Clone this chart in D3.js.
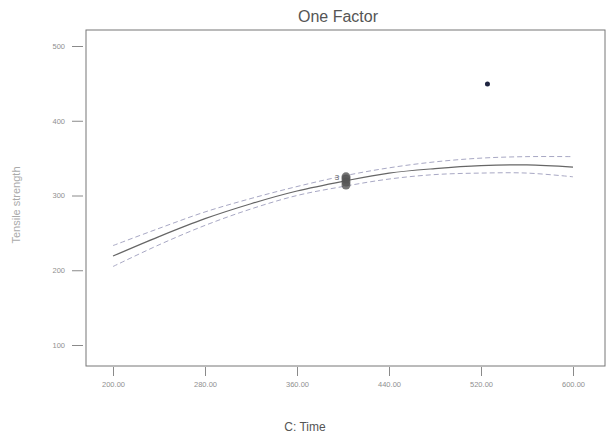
<!doctype html>
<html>
<head>
    <style>
        body {
            margin: 0;
            background: #fff;
            font-family: 'Liberation Sans', Arial, sans-serif;
        }

        .axis {
            color: #8a8a8a;
        }

        .tick text {
            font-size: 7.5px;
            fill: #8f8f8f;
        }

        .domain {
            display: none;
        }

        text.title {
            font-size: 16px;
            fill: #555;
        }

        text.label {
            font-size: 12px;
            fill: #555;
        }

        text.ylabel {
            font-size: 11px;
            fill: #aaa;
        }
    </style>
    <script src="https://d3js.org/d3.v7.min.js"></script>
</head>
<body>
<svg width="610" height="434"></svg>
<script>
    // fitted line
    const times = [200, 240, 280, 320, 360, 400, 440, 480, 520, 560, 600]
    const fit = [219, 245, 269, 289, 306, 319, 330, 336, 340, 341, 338]
    const upper = [233, 256, 278, 296, 312, 326, 337, 345, 350, 352, 352]
    const lower = [205, 234, 260, 282, 300, 312, 322, 328, 330, 330, 325]

    // design points
    const pointTimes = [400, 400, 400, 400, 523]
    const pointValues = [325, 322, 318, 314, 449]

    const xTicks = [200, 280, 360, 440, 520, 600]
    const yTicks = [100, 200, 300, 400, 500]

    const svg = d3.select('svg')

    const frame = {left: 86, right: 605, top: 30, bottom: 366}

    const xScale = d3.scaleLinear()
        .domain([200, 600])
        .range([113, 573])

    const yScale = d3.scaleLinear()
        .domain([100, 500])
        .range([345, 46])

    // frame
    svg.append('rect')
        .attr('x', frame.left)
        .attr('y', frame.top)
        .attr('width', frame.right - frame.left)
        .attr('height', frame.bottom - frame.top)
        .attr('fill', 'none')
        .attr('stroke', '#777')
        .attr('stroke-width', 1)

    svg.append('g')
        .attr('class', 'axis')
        .attr('transform', `translate(0, ${frame.bottom + 1})`)
        .call(d3.axisBottom(xScale)
            .tickValues(xTicks)
            .tickSize(9)
            .tickPadding(6)
            .tickFormat(d3.format('.2f')))

    svg.append('g')
        .attr('class', 'axis')
        .attr('transform', `translate(${frame.left - 3}, 0)`)
        .call(d3.axisLeft(yScale)
            .tickValues(yTicks)
            .tickSize(11)
            .tickPadding(7))

    const line = d3.line()
        .x((d) => xScale(d[0]))
        .y((d) => yScale(d[1]))
        .curve(d3.curveCatmullRom)

    svg.append('path')
        .datum(times.map((t, i) => [t, upper[i]]))
        .attr('d', line)
        .attr('fill', 'none')
        .attr('stroke', '#a8a8c4')
        .attr('stroke-width', 1)
        .attr('stroke-dasharray', '5 3')

    svg.append('path')
        .datum(times.map((t, i) => [t, lower[i]]))
        .attr('d', line)
        .attr('fill', 'none')
        .attr('stroke', '#a8a8c4')
        .attr('stroke-width', 1)
        .attr('stroke-dasharray', '5 3')

    svg.append('path')
        .datum(times.map((t, i) => [t, fit[i]]))
        .attr('d', line)
        .attr('fill', 'none')
        .attr('stroke', '#666')
        .attr('stroke-width', 1.2)

    svg.selectAll('circle.pt')
        .data(pointTimes.map((t, i) => [t, pointValues[i]]))
        .enter()
        .append('circle')
        .attr('class', 'pt')
        .attr('cx', (d) => xScale(d[0]) + 3)
        .attr('cy', (d) => yScale(d[1]))
        .attr('r', (d, i) => i < 4 ? 4.5 : 2.5)
        .attr('fill', (d, i) => i < 4 ? '#555' : '#1e2440')
        .attr('opacity', (d, i) => i < 4 ? 0.8 : 1)

    // count label next to the repeated runs
    svg.append('text')
        .attr('x', xScale(400) - 6)
        .attr('y', yScale(pointValues[0]) + 3)
        .attr('text-anchor', 'middle')
        .attr('font-size', 8)
        .attr('fill', '#666')
        .text('3')

    svg.append('text')
        .attr('class', 'title')
        .attr('x', 338)
        .attr('y', 22)
        .attr('text-anchor', 'middle')
        .text('One Factor')

    svg.append('text')
        .attr('class', 'label')
        .attr('x', 305)
        .attr('y', 431)
        .attr('text-anchor', 'middle')
        .text('C: Time')

    svg.append('text')
        .attr('class', 'ylabel')
        .attr('transform', 'translate(20, 205) rotate(-90)')
        .attr('text-anchor', 'middle')
        .text('Tensile strength')
</script>
</body>
</html>
